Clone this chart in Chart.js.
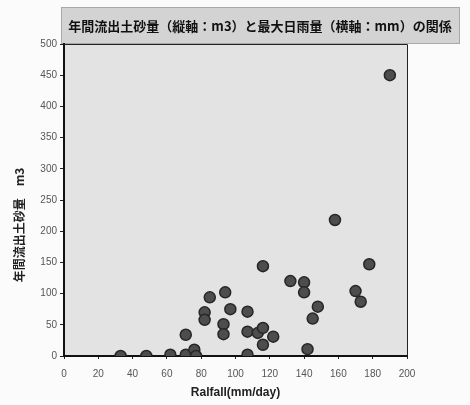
<!DOCTYPE html>
<html>
<head>
<meta charset="utf-8">
<script src="https://cdn.jsdelivr.net/npm/chart.js@4/dist/chart.umd.min.js"></script>
<style>
  html, body { margin: 0; padding: 0; background: #fbfbfb; }
  #wrap { width: 470px; height: 405px; }
</style>
</head>
<body>
<div id="wrap"><canvas id="myChart"></canvas></div>
<script>
const chartTitle = '年間流出土砂量（縦軸：m3）と最大日雨量（横軸：mm）の関係';
const yTitle = '年間流出土砂量　m3';
const xTitle = 'Ralfall(mm/day)';

// max daily rainfall (mm/day)
const rainfall = [
  190, 158, 116, 178, 132, 140, 140, 170, 173, 148, 145, 142,
  107, 97, 94, 85, 82, 82, 93, 93, 107, 113, 116, 122, 116, 107,
  33, 48, 62, 71, 71, 76, 77
];
// annual sediment outflow (m3)
const sediment = [
  450, 218, 144, 147, 120, 118, 102, 104, 87, 79, 60, 11,
  71, 75, 102, 94, 70, 58, 51, 35, 39, 37, 45, 31, 18, 2,
  0, 0, 2, 34, 2, 10, 0
];

const points = rainfall.map((x, i) => ({ x: x, y: sediment[i] }));

// paints the grey plot area, the title box and the frame
const frame = {
  id: 'frame',
  beforeDraw(chart) {
    const { ctx, chartArea: a } = chart;
    ctx.save();
    ctx.fillStyle = '#e3e3e3';
    ctx.fillRect(a.left, a.top, a.right - a.left, a.bottom - a.top);
    // title box
    ctx.fillStyle = '#d3d3d3';
    ctx.fillRect(61, 7, 399, 37);
    ctx.strokeStyle = '#a8a8a8';
    ctx.lineWidth = 1;
    ctx.strokeRect(61.5, 7.5, 398, 36);
    ctx.fillStyle = '#111';
    ctx.font = 'bold 13px "Noto Sans CJK JP"';
    ctx.textAlign = 'center';
    ctx.textBaseline = 'middle';
    ctx.fillText(chartTitle, 260, 26, 394);
    ctx.restore();
  },
  afterDraw(chart) {
    const { ctx, chartArea: a } = chart;
    ctx.save();
    ctx.strokeStyle = '#222';
    ctx.lineWidth = 1;
    ctx.beginPath();
    ctx.moveTo(a.left, a.top + 0.5);
    ctx.lineTo(a.right + 0.5, a.top + 0.5);
    ctx.lineTo(a.right + 0.5, a.bottom);
    ctx.stroke();
    // y axis title
    ctx.translate(19, 225);
    ctx.rotate(-Math.PI / 2);
    ctx.fillStyle = '#222';
    ctx.font = 'bold 12px "Noto Sans CJK JP"';
    ctx.textAlign = 'center';
    ctx.textBaseline = 'middle';
    ctx.fillText(yTitle, 0, 0);
    ctx.restore();
  }
};

const config = {
  type: 'scatter',
  data: {
    datasets: [{
      data: points,
      backgroundColor: '#4d4d4d',
      borderColor: '#262626',
      borderWidth: 1.5,
      pointRadius: 5.5,
      pointHoverRadius: 5.5
    }]
  },
  options: {
    responsive: true,
    maintainAspectRatio: false,
    animation: false,
    layout: { padding: { left: 0, top: 44, right: 63, bottom: 0 } },
    plugins: {
      legend: { display: false },
      tooltip: { enabled: false }
    },
    scales: {
      x: {
        min: 0,
        max: 200,
        afterFit(scale) { scale.height = 49; },
        ticks: {
          stepSize: 20,
          padding: 9,
          color: '#555',
          font: { family: 'Liberation Sans', size: 10 }
        },
        grid: {
          display: true,
          drawOnChartArea: false,
          tickLength: 3,
          tickColor: '#222'
        },
        border: { color: '#111', width: 2 },
        title: {
          display: true,
          text: xTitle,
          color: '#222',
          padding: { top: 0, bottom: 5 },
          font: { family: 'Liberation Sans', size: 12, weight: 'bold' }
        }
      },
      y: {
        min: 0,
        max: 500,
        afterFit(scale) { scale.width = 64; },
        ticks: {
          stepSize: 50,
          padding: 3,
          color: '#555',
          font: { family: 'Liberation Sans', size: 10 }
        },
        grid: {
          display: true,
          drawOnChartArea: false,
          tickLength: 4,
          tickColor: '#222'
        },
        border: { color: '#111', width: 2 }
      }
    }
  },
  plugins: [frame]
};

const myChart = new Chart(document.getElementById('myChart'), config);
</script>
</body>
</html>
